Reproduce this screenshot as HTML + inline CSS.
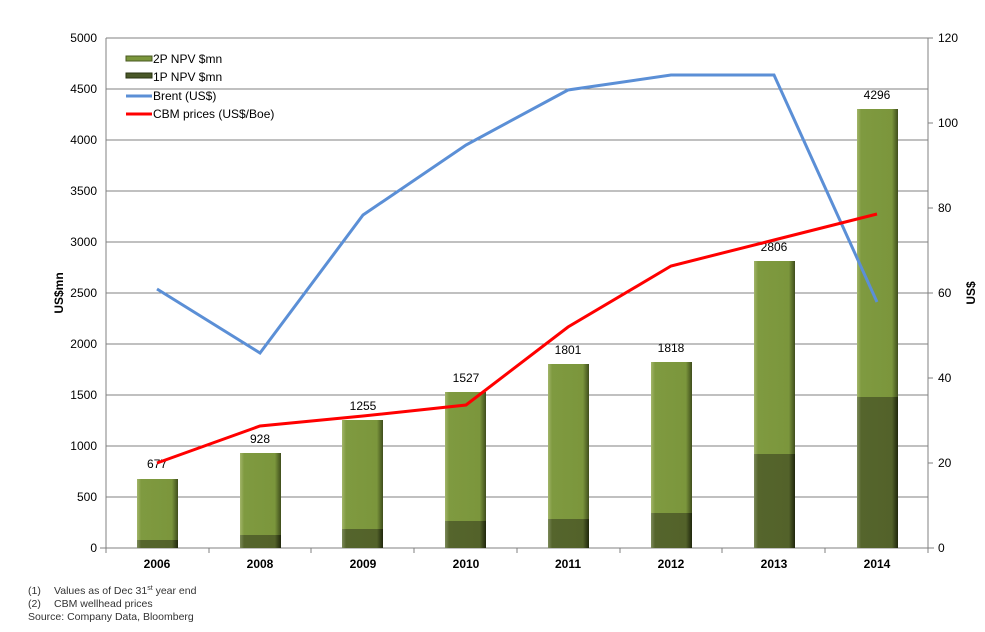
<!DOCTYPE html>
<html><head><meta charset="utf-8"><style>
body{margin:0;background:#fff;}
svg text{font-family:"Liberation Sans",Arial,sans-serif;}
</style></head><body>
<svg width="985" height="627" viewBox="0 0 985 627" xmlns="http://www.w3.org/2000/svg">
<defs>
<linearGradient id="g2" x1="0" x2="1" y1="0" y2="0">
<stop offset="0" stop-color="#a2b56a"/><stop offset="0.1" stop-color="#7f9a40"/><stop offset="0.85" stop-color="#7b963c"/><stop offset="1" stop-color="#3f4d1c"/></linearGradient>
<linearGradient id="g1" x1="0" x2="1" y1="0" y2="0">
<stop offset="0" stop-color="#7c8a5a"/><stop offset="0.1" stop-color="#55652c"/><stop offset="0.85" stop-color="#53622a"/><stop offset="1" stop-color="#1f260c"/></linearGradient>
</defs>
<g stroke="#808080" stroke-width="1">
<line x1="106" y1="38" x2="928" y2="38"/>
<line x1="106" y1="89" x2="928" y2="89"/>
<line x1="106" y1="140" x2="928" y2="140"/>
<line x1="106" y1="191" x2="928" y2="191"/>
<line x1="106" y1="242" x2="928" y2="242"/>
<line x1="106" y1="293" x2="928" y2="293"/>
<line x1="106" y1="344" x2="928" y2="344"/>
<line x1="106" y1="395" x2="928" y2="395"/>
<line x1="106" y1="446" x2="928" y2="446"/>
<line x1="106" y1="497" x2="928" y2="497"/>
<line x1="106" y1="38" x2="106" y2="548"/>
<line x1="928" y1="38" x2="928" y2="548"/>
<line x1="100" y1="548" x2="934" y2="548"/>
</g>
<g stroke="#808080">
<line x1="106" y1="548" x2="106" y2="553"/><line x1="209" y1="548" x2="209" y2="553"/><line x1="311" y1="548" x2="311" y2="553"/><line x1="414" y1="548" x2="414" y2="553"/><line x1="517" y1="548" x2="517" y2="553"/><line x1="620" y1="548" x2="620" y2="553"/><line x1="722" y1="548" x2="722" y2="553"/><line x1="825" y1="548" x2="825" y2="553"/><line x1="928" y1="548" x2="928" y2="553"/>
<line x1="928" y1="38" x2="933" y2="38"/><line x1="928" y1="123" x2="933" y2="123"/><line x1="928" y1="208" x2="933" y2="208"/><line x1="928" y1="293" x2="933" y2="293"/><line x1="928" y1="378" x2="933" y2="378"/><line x1="928" y1="463" x2="933" y2="463"/>
</g>
<g font-size="12" text-anchor="end" fill="#000">
<text x="97" y="42">5000</text><text x="97" y="93">4500</text><text x="97" y="144">4000</text><text x="97" y="195">3500</text><text x="97" y="246">3000</text><text x="97" y="297">2500</text><text x="97" y="348">2000</text><text x="97" y="399">1500</text><text x="97" y="450">1000</text><text x="97" y="501">500</text><text x="97" y="552">0</text>
</g>
<g font-size="12" fill="#000">
<text x="938" y="42">120</text><text x="938" y="127">100</text><text x="938" y="212">80</text><text x="938" y="297">60</text><text x="938" y="382">40</text><text x="938" y="467">20</text><text x="938" y="552">0</text>
</g>
<text transform="translate(63,293) rotate(-90)" font-size="12" font-weight="bold" text-anchor="middle">US$mn</text>
<text transform="translate(975,293) rotate(-90)" font-size="12" font-weight="bold" text-anchor="middle">US$</text>
<g font-size="12" font-weight="bold" text-anchor="middle">
<text x="157" y="568">2006</text><text x="260" y="568">2008</text><text x="363" y="568">2009</text><text x="466" y="568">2010</text><text x="568" y="568">2011</text><text x="671" y="568">2012</text><text x="774" y="568">2013</text><text x="877" y="568">2014</text>
</g>
<g>
<rect x="137" y="479" width="41" height="69" fill="url(#g2)"/><rect x="137" y="540" width="41" height="8" fill="url(#g1)"/>
<rect x="240" y="453" width="41" height="95" fill="url(#g2)"/><rect x="240" y="535" width="41" height="13" fill="url(#g1)"/>
<rect x="342" y="420" width="41" height="128" fill="url(#g2)"/><rect x="342" y="529" width="41" height="19" fill="url(#g1)"/>
<rect x="445" y="392" width="41" height="156" fill="url(#g2)"/><rect x="445" y="521" width="41" height="27" fill="url(#g1)"/>
<rect x="548" y="364" width="41" height="184" fill="url(#g2)"/><rect x="548" y="519" width="41" height="29" fill="url(#g1)"/>
<rect x="651" y="362" width="41" height="186" fill="url(#g2)"/><rect x="651" y="513" width="41" height="35" fill="url(#g1)"/>
<rect x="754" y="261" width="41" height="287" fill="url(#g2)"/><rect x="754" y="454" width="41" height="94" fill="url(#g1)"/>
<rect x="857" y="109" width="41" height="439" fill="url(#g2)"/><rect x="857" y="397" width="41" height="151" fill="url(#g1)"/>
</g>
<g font-size="12" text-anchor="middle">
<text x="157" y="468">677</text><text x="260" y="443">928</text><text x="363" y="410">1255</text><text x="466" y="382">1527</text><text x="568" y="354">1801</text><text x="671" y="352">1818</text><text x="774" y="251">2806</text><text x="877" y="99">4296</text>
</g>
<polyline fill="none" stroke="#5b8fd6" stroke-width="3" points="157,289 260,353 363,215 466,145 568,90 671,75 774,75 877,302"/>
<polyline fill="none" stroke="#ff0000" stroke-width="3" points="157,463 260,426 363,416 466,405 568,327 671,266 774,240 877,214"/>
<rect x="126" y="56" width="26" height="5" fill="#7b963c" stroke="#4a5a22" stroke-width="1"/>
<rect x="126" y="73" width="26" height="5" fill="#4a5828" stroke="#2a3312" stroke-width="1"/>
<line x1="126" y1="96" x2="152" y2="96" stroke="#5b8fd6" stroke-width="3"/>
<line x1="126" y1="114" x2="152" y2="114" stroke="#ff0000" stroke-width="3"/>
<g font-size="12">
<text x="153" y="63">2P NPV $mn</text><text x="153" y="81">1P NPV $mn</text><text x="153" y="100">Brent (US$)</text><text x="153" y="118">CBM prices (US$/Boe)</text>
</g>
<g font-size="10.5" fill="#333">
<text x="28" y="594">(1)</text><text x="54" y="594">Values as of Dec 31<tspan font-size="7" dy="-4">st</tspan><tspan dy="4"> year end</tspan></text>
<text x="28" y="607">(2)</text><text x="54" y="607">CBM wellhead prices</text>
<text x="28" y="620">Source: Company Data, Bloomberg</text>
</g>
</svg>
</body></html>
